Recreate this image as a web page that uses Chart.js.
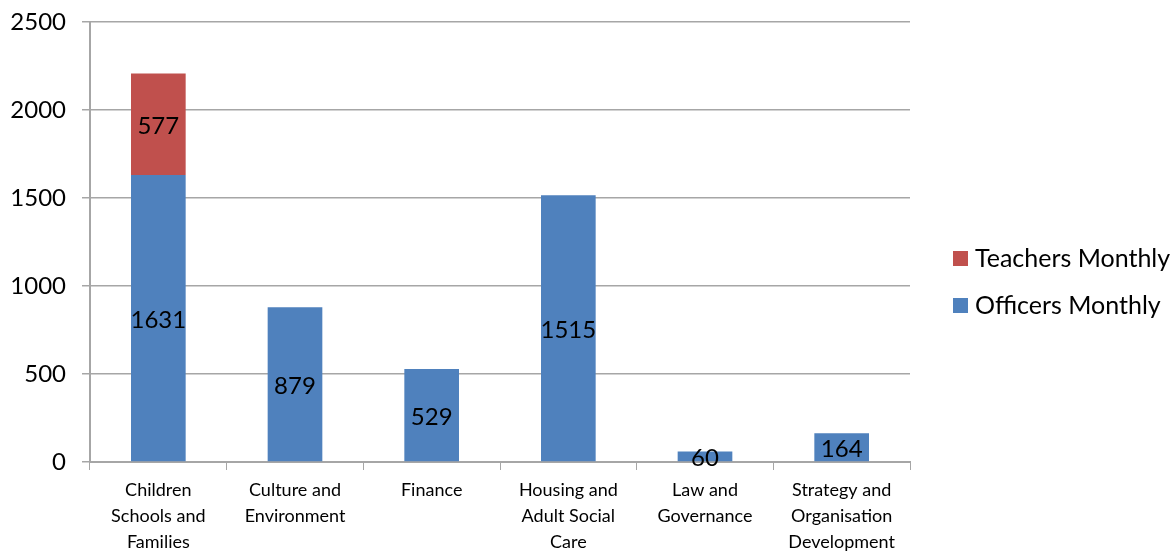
<!DOCTYPE html>
<html>
<head>
<meta charset="utf-8">
<script src="https://cdn.jsdelivr.net/npm/chart.js@4"></script>
<style>
  html, body { margin: 0; padding: 0; background: #fff; }
  #wrap { width: 1175px; height: 555px; position: relative; }
</style>
</head>
<body>
<div id="wrap"><canvas id="chart"></canvas></div>
<script>
// Departments along the x axis (multi-line, as in the source)
const categories = [
    ['Children', 'Schools and', 'Families'],
    ['Culture and', 'Environment'],
    ['Finance'],
    ['Housing and', 'Adult Social', 'Care'],
    ['Law and', 'Governance'],
    ['Strategy and', 'Organisation', 'Development'],
];
const officersMonthly = [1631, 879, 529, 1515, 60, 164];
const teachersMonthly = [577, null, null, null, null, null];
const yTicks = [0, 500, 1000, 1500, 2000, 2500];

const BLUE = '#4f81bd';
const RED = '#c0504d';
const GRID = '#a6a6a6';
const FONT = 'Lato, "Open Sans", sans-serif';

// Draws each value in the middle of its bar segment.
const barValueLabels = {
    id: 'barValueLabels',
    afterDatasetsDraw(chart) {
        const ctx = chart.ctx;
        ctx.save();
        ctx.font = `24px ${FONT}`;
        ctx.fillStyle = '#000';
        ctx.textAlign = 'center';
        ctx.textBaseline = 'middle';
        chart.data.datasets.forEach((ds, di) => {
            const meta = chart.getDatasetMeta(di);
            meta.data.forEach((bar, i) => {
                const v = ds.data[i];
                if (v == null) return;
                const p = bar.getProps(['x', 'y', 'base'], true);
                ctx.fillText(String(v), p.x, (p.y + p.base) / 2 + 2);
            });
        });
        ctx.restore();
    },
};

// Legend on the right, Teachers above Officers.
const sideLegend = {
    id: 'sideLegend',
    afterDraw(chart) {
        const ctx = chart.ctx;
        const items = chart.data.datasets.slice().reverse();
        const x = 953;
        const rowGap = 47;
        const startY = 258;
        ctx.save();
        ctx.font = `25px ${FONT}`;
        ctx.textBaseline = 'middle';
        items.forEach((ds, i) => {
            const y = startY + i * rowGap;
            ctx.fillStyle = ds.backgroundColor;
            ctx.fillRect(x, y - 7, 15, 15);
            ctx.fillStyle = '#000';
            ctx.fillText(ds.label, x + 22, y + 1);
        });
        ctx.restore();
    },
};

new Chart(document.getElementById('chart'), {
    type: 'bar',
    data: {
        labels: categories,
        datasets: [
            {
                label: 'Officers Monthly',
                data: officersMonthly,
                backgroundColor: BLUE,
                barPercentage: 0.4,
                categoryPercentage: 1,
            },
            {
                label: 'Teachers Monthly',
                data: teachersMonthly,
                backgroundColor: RED,
                barPercentage: 0.4,
                categoryPercentage: 1,
            },
        ],
    },
    options: {
        responsive: true,
        maintainAspectRatio: false,
        animation: false,
        layout: { padding: { top: 22, right: 265, left: 0, bottom: 0 } },
        scales: {
            x: {
                stacked: true,
                afterFit: (axis) => {
                    axis.height = 93;
                    axis.paddingBottom = 0;
                    axis.paddingLeft = 0;
                    axis.paddingRight = 0;
                },
                grid: {
                    offset: true,
                    drawOnChartArea: false,
                    drawTicks: true,
                    tickLength: 8,
                    color: GRID,
                },
                border: { color: GRID, width: 2 },
                ticks: {
                    color: '#000',
                    font: { family: FONT, size: 18, lineHeight: 1.45 },
                    padding: 7,
                    maxRotation: 0,
                    autoSkip: false,
                },
            },
            y: {
                stacked: true,
                min: 0,
                max: 2500,
                afterBuildTicks: (axis) => {
                    axis.ticks = yTicks.map((v) => ({ value: v }));
                },
                afterFit: (axis) => {
                    axis.width = 90;
                    axis.paddingTop = 0;
                    axis.paddingBottom = 0;
                },
                grid: {
                    color: GRID,
                    lineWidth: 1.5,
                    drawTicks: true,
                    tickLength: 8,
                },
                border: { color: GRID, width: 2 },
                ticks: {
                    color: '#000',
                    font: { family: FONT, size: 24 },
                    padding: 16,
                    callback: (v) => String(v),
                },
            },
        },
        plugins: {
            legend: { display: false },
            tooltip: { enabled: false },
        },
    },
    plugins: [barValueLabels, sideLegend],
});
</script>
</body>
</html>
